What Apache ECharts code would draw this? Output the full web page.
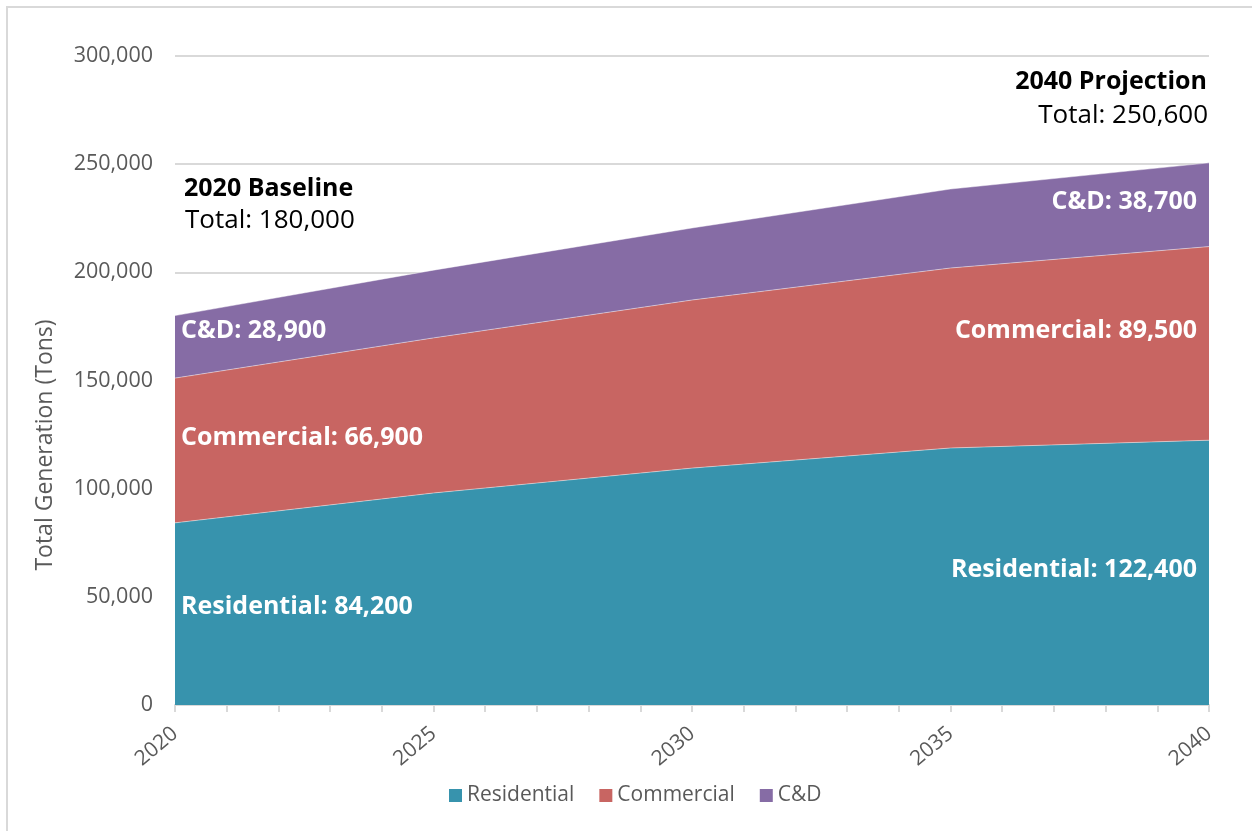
<!DOCTYPE html>
<html>
<head>
<meta charset="utf-8">
<script src="https://cdn.jsdelivr.net/npm/echarts@6/dist/echarts.min.js"></script>
<style>
  html, body { margin: 0; padding: 0; background: #ffffff; }
  #chart { width: 1252px; height: 831px; }
</style>
</head>
<body>
<div id="chart"></div>
<script>
// Waste generation projection, tons per year
const years = ['2020', '2025', '2030', '2035', '2040'];
const seriesNames = ['Residential', 'Commercial', 'C&D'];
const residential = [84200, 98000, 109500, 118800, 122400];
const commercial = [66900, 71700, 77700, 83200, 89500];
const candd = [28900, 31300, 33300, 36500, 38700];
const colors = ['#3793AD', '#C86562', '#866CA5'];

const FONT = '"Open Sans", sans-serif';
const valuesByName = [residential, commercial, candd];
const firstYear = Number(years[0]);
const lastYear = Number(years[years.length - 1]);

const chart = echarts.init(document.getElementById('chart'), null, { renderer: 'canvas' });

const fmt = v => v.toLocaleString('en-US');
const tickStyle = { color: '#D9D9D9', width: 2 };

const option = {
  backgroundColor: '#ffffff',
  animation: false,
  grid: { left: 175, right: 43, top: 56, bottom: 126, containLabel: false },
  legend: {
    data: seriesNames,
    bottom: 20,
    left: 444,
    icon: 'rect',
    itemWidth: 13,
    itemHeight: 13,
    itemGap: 25,
    textStyle: { fontFamily: FONT, fontSize: 21, color: '#595959' }
  },
  xAxis: [
    {
      // category axis carrying the stacked areas
      type: 'category',
      data: years,
      boundaryGap: false,
      show: false
    },
    {
      // yearly tick scale shown beneath the plot
      type: 'value',
      min: firstYear,
      max: lastYear,
      interval: 5,
      position: 'bottom',
      axisLine: { show: true, lineStyle: tickStyle },
      axisTick: { show: true, length: 7, lineStyle: tickStyle },
      minorTick: { show: true, splitNumber: 5, length: 7, lineStyle: tickStyle },
      splitLine: { show: false },
      axisLabel: {
        formatter: v => String(v),
        rotate: 40,
        margin: 26,
        fontFamily: FONT,
        fontSize: 21,
        color: '#595959'
      }
    }
  ],
  yAxis: {
    type: 'value',
    min: 0,
    max: 300000,
    interval: 50000,
    axisLine: { show: false },
    axisTick: { show: false },
    splitLine: { lineStyle: { color: '#D9D9D9', width: 2 } },
    axisLabel: {
      formatter: v => fmt(v),
      margin: 22,
      fontFamily: FONT,
      fontSize: 21.5,
      color: '#595959'
    }
  },
  series: seriesNames.map((name, i) => ({
    name,
    type: 'line',
    xAxisIndex: 0,
    stack: 'total',
    data: valuesByName[i],
    symbol: 'none',
    smooth: false,
    color: colors[i],
    lineStyle: { width: 0.8, color: 'rgba(255,255,255,0.55)' },
    areaStyle: { color: colors[i], opacity: 1 },
    emphasis: { disabled: true },
    z: 2
  }))
};

chart.setOption(option);

// In-band value labels at the first and last year, placed at each band's middle
const graphics = [];
const lastIdx = years.length - 1;
const leftShift = [-7, -13, -16];
const rightShift = [-3, -13, -3];
const bandFont = 'bold 25px ' + FONT;
let base0 = 0, baseN = 0;
seriesNames.forEach((name, i) => {
  const vals = valuesByName[i];
  const p0 = chart.convertToPixel({ xAxisIndex: 0, yAxisIndex: 0 }, [years[0], base0 + vals[0] / 2]);
  const pN = chart.convertToPixel({ xAxisIndex: 0, yAxisIndex: 0 }, [years[lastIdx], baseN + vals[lastIdx] / 2]);
  graphics.push({
    type: 'text', x: p0[0] + 6, y: p0[1] + leftShift[i], z: 10,
    style: {
      text: name + ': ' + fmt(vals[0]),
      fill: '#ffffff', font: bandFont,
      textAlign: 'left', textVerticalAlign: 'middle'
    }
  });
  graphics.push({
    type: 'text', x: pN[0] - 12, y: pN[1] + rightShift[i], z: 10,
    style: {
      text: name + ': ' + fmt(vals[lastIdx]),
      fill: '#ffffff', font: bandFont,
      textAlign: 'right', textVerticalAlign: 'middle'
    }
  });
  base0 += vals[0];
  baseN += vals[lastIdx];
});

const total0 = base0;
const totalN = baseN;

graphics.push(
  {
    type: 'text', x: 184, y: 189, z: 10,
    style: { text: years[0] + ' Baseline', fill: '#000000', font: 'bold 25px ' + FONT, textAlign: 'left', textVerticalAlign: 'middle' }
  },
  {
    type: 'text', x: 185, y: 221, z: 10,
    style: { text: 'Total: ' + fmt(total0), fill: '#000000', font: '26px ' + FONT, textAlign: 'left', textVerticalAlign: 'middle' }
  },
  {
    type: 'text', x: 1207, y: 82, z: 10,
    style: { text: years[lastIdx] + ' Projection', fill: '#000000', font: 'bold 25px ' + FONT, textAlign: 'right', textVerticalAlign: 'middle' }
  },
  {
    type: 'text', x: 1208, y: 116, z: 10,
    style: { text: 'Total: ' + fmt(totalN), fill: '#000000', font: '26px ' + FONT, textAlign: 'right', textVerticalAlign: 'middle' }
  },
  {
    // y-axis title
    type: 'text', x: 45, y: 445, rotation: Math.PI / 2, z: 10,
    style: { text: 'Total Generation (Tons)', fill: '#595959', font: '23px ' + FONT, textAlign: 'center', textVerticalAlign: 'middle' }
  },
  {
    // chart frame
    type: 'rect', shape: { x: 7, y: 7, width: 1300, height: 900 }, z: 0,
    style: { fill: 'none', stroke: '#D9D9D9', lineWidth: 2 }
  }
);

chart.setOption({ graphic: graphics });
</script>
</body>
</html>
